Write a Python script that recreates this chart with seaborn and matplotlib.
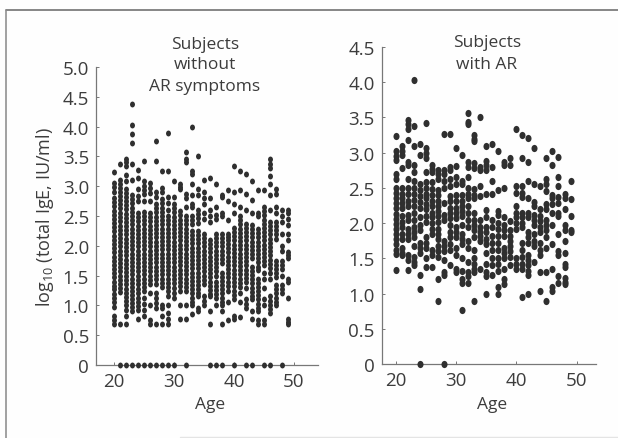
import pandas as pd
import seaborn as sns
import matplotlib
matplotlib.use('Agg')
import matplotlib.pyplot as plt
from matplotlib.lines import Line2D
from matplotlib.path import Path
from matplotlib.transforms import Affine2D

### values, one list per age: log10 total IgE
no_ar_20 = [3.24,3.05,2.98,2.91,2.80,2.73,2.66,2.59,2.52,2.45,2.38,2.31,2.24,2.17,2.10,2.03,1.96,1.89,1.82,1.75,1.68,1.61,1.54,1.47,1.40,1.33,1.27,1.19,1.12,1.05,0.98,0.82,0.75,0.68]
no_ar_21 = [3.38,3.11,3.04,2.97,2.90,2.84,2.77,2.70,2.64,2.55,2.48,2.41,2.34,2.27,2.20,2.13,2.06,1.99,1.92,1.85,1.78,1.71,1.64,1.57,1.50,1.43,1.36,1.30,1.23,0.69,0]
no_ar_22 = [3.46,3.40,3.34,3.18,3.08,2.96,2.89,2.82,2.75,2.68,2.61,2.54,2.47,2.40,2.33,2.26,2.19,2.12,2.05,1.98,1.91,1.84,1.77,1.70,1.63,1.56,1.49,1.42,1.36,1.28,1.21,1.14,1.07,1.00,0.93,0.83,0.69,0]
no_ar_23 = [4.38,4.03,3.87,3.73,3.38,3.10,2.85,2.78,2.71,2.64,2.57,2.50,2.43,2.36,2.29,2.22,2.15,2.08,2.01,1.94,1.87,1.80,1.73,1.66,1.59,1.52,1.45,1.38,1.31,1.25,1.18,1.11,1.04,0.97,0.90,0]
no_ar_24 = [3.28,3.13,2.96,2.83,2.75,2.55,2.48,2.41,2.34,2.27,2.20,2.13,2.06,1.99,1.92,1.85,1.78,1.71,1.64,1.57,1.50,1.43,1.36,1.27,1.20,1.13,1.06,0.99,0.92,0.77,0]
no_ar_25 = [3.42,3.08,3.01,2.94,2.87,2.75,2.57,2.50,2.43,2.36,2.29,2.22,2.15,2.08,2.01,1.94,1.87,1.80,1.73,1.66,1.59,1.52,1.45,1.38,1.31,1.25,1.12,1.03,0.92,0.82,0]
no_ar_26 = [3.05,2.97,2.88,2.75,2.55,2.48,2.41,2.34,2.27,2.20,2.13,2.06,1.99,1.92,1.85,1.78,1.71,1.64,1.57,1.50,1.43,1.36,1.20,1.00,0.76,0.69,0]
no_ar_27 = [3.76,3.42,2.90,2.82,2.70,2.63,2.56,2.49,2.42,2.35,2.28,2.21,2.14,2.07,2.00,1.93,1.86,1.79,1.72,1.65,1.58,1.51,1.44,1.36,1.20,1.12,1.04,0.96,0.69,0]
no_ar_28 = [3.26,2.97,2.90,2.78,2.71,2.64,2.57,2.50,2.43,2.36,2.29,2.22,2.15,2.08,2.01,1.94,1.87,1.80,1.73,1.66,1.59,1.52,1.45,1.38,1.31,1.00,0.95,0.83,0.69,0]
no_ar_29 = [3.90,3.26,2.82,2.72,2.60,2.50,2.43,2.36,2.29,2.22,2.15,2.08,2.01,1.94,1.87,1.80,1.73,1.66,1.59,1.52,1.45,1.38,1.31,1.25,1.15,1.00,0.88,0.78,0.69,0]
no_ar_30 = [3.08,2.82,2.70,2.63,2.56,2.49,2.42,2.35,2.28,2.21,2.14,2.07,2.00,1.93,1.86,1.79,1.72,1.65,1.58,1.51,1.44,1.37,1.30,1.20,1.13,0]
no_ar_31 = [3.03,2.99,2.95,2.58,2.51,2.44,2.37,2.30,2.23,2.16,2.09,2.02,1.95,1.88,1.81,1.74,1.67,1.60,1.53,1.46,1.39,1.32,1.25,1.00,0.77]
no_ar_32 = [3.57,3.45,3.40,2.87,2.80,2.65,2.50,2.43,2.36,2.29,2.22,2.15,2.08,2.01,1.94,1.87,1.80,1.73,1.66,1.59,1.52,1.45,1.38,1.31,1.24,1.00,0.78,0]
no_ar_33 = [4.00,3.25,3.20,3.03,2.85,2.70,2.65,2.50,2.43,2.36,2.25,2.18,2.11,2.04,1.97,1.90,1.83,1.76,1.69,1.62,1.55,1.48,1.41,1.34,1.27,1.20,1.13,1.06,1.00,0.85]
no_ar_34 = [3.50,2.95,2.85,2.60,2.53,2.46,2.39,2.25,2.18,2.11,2.04,1.97,1.90,1.83,1.76,1.69,1.62,1.55,1.48,1.41,1.34,1.27,1.20,1.15,0.95,0.90]
no_ar_35 = [3.10,2.90,2.80,2.70,2.55,2.45,2.20,2.13,2.06,1.99,1.92,1.85,1.78,1.71,1.64,1.57,1.50,1.43,1.36,1.15,1.08,1.00]
no_ar_36 = [3.13,2.80,2.60,2.50,2.40,2.10,2.03,1.96,1.89,1.82,1.75,1.68,1.61,1.54,1.47,1.40,1.33,1.26,1.19,1.15,0.90,0.69,0]
no_ar_37 = [3.03,2.65,2.52,2.45,2.20,2.13,2.06,1.99,1.92,1.85,1.78,1.71,1.64,1.57,1.50,1.40,1.33,1.26,1.19,1.12,1.00,0]
no_ar_38 = [2.85,2.82,2.55,2.50,2.20,2.13,2.06,1.99,1.92,1.85,1.78,1.71,1.55,1.48,1.41,1.34,1.27,1.20,1.13,1.06,1.00,0.90,0.69,0]
no_ar_39 = [2.93,2.75,2.43,2.20,2.15,2.10,2.03,1.96,1.89,1.82,1.75,1.68,1.61,1.54,1.47,1.40,1.33,1.25,1.05,0.76]
no_ar_40 = [3.34,2.90,2.70,2.55,2.30,2.23,2.16,2.09,2.02,1.95,1.88,1.81,1.74,1.67,1.60,1.53,1.46,1.39,1.32,1.25,1.18,1.10,0.82,0.78,0]
no_ar_41 = [3.25,2.93,2.65,2.50,2.43,2.36,2.29,2.22,2.15,2.08,2.01,1.94,1.87,1.80,1.73,1.66,1.59,1.52,1.45,1.38,1.31,1.20,1.05,0.80]
no_ar_42 = [3.21,2.87,2.60,2.37,2.30,2.23,2.16,2.09,2.02,1.95,1.88,1.81,1.74,1.67,1.60,1.53,1.46,1.39,1.30,1.10,1.03,0.96,0]
no_ar_43 = [3.08,2.77,2.55,2.35,2.28,2.21,2.14,2.07,2.00,1.93,1.86,1.79,1.65,1.58,1.51,1.44,1.37,1.30,1.23,1.15,1.10,0.90,0.77,0]
no_ar_44 = [2.93,2.55,2.50,2.28,2.21,2.14,2.07,2.00,1.93,1.86,1.79,1.72,1.65,1.60,1.45,1.38,1.31,1.24,1.17,1.10,1.03,0.96,0.90,0.75,0.69]
no_ar_45 = [2.93,2.65,2.58,2.51,2.44,2.37,2.30,2.23,2.16,2.09,2.02,1.95,1.88,1.81,1.74,1.67,1.55,1.45,1.30,1.10,1.00,0.75,0.69,0]
no_ar_46 = [3.45,3.37,3.30,3.17,3.03,2.85,2.60,2.40,2.33,2.26,2.19,2.12,2.05,1.98,1.91,1.84,1.77,1.70,1.63,1.55,1.45,1.15,1.08,1.01,0.94,0.87,0]
no_ar_47 = [2.95,2.87,2.65,2.55,2.40,2.33,2.26,2.19,2.12,1.75,1.68,1.61,1.54,1.47,1.34,1.27,1.20,1.13,1.06,1.00]
no_ar_48 = [2.60,2.50,2.40,2.20,2.00,1.92,1.75,1.68,1.61,1.50,1.35,1.28,1.21,0]
no_ar_49 = [2.60,2.55,2.45,2.35,2.20,2.10,1.90,1.85,1.80,1.45,1.40,1.13,0.78,0.72,0.68]

with_ar_20 = [3.24,3.03,2.95,2.90,2.70,2.63,2.50,2.43,2.36,2.29,2.22,2.13,2.06,1.99,1.92,1.85,1.78,1.70,1.62,1.56,1.33]
with_ar_21 = [3.10,3.03,2.97,2.78,2.50,2.42,2.35,2.28,2.21,2.10,2.02,1.95,1.85,1.78,1.65,1.58,1.55]
with_ar_22 = [3.46,3.40,3.34,3.18,2.87,2.83,2.62,2.50,2.42,2.32,2.25,2.12,2.05,1.92,1.85,1.78,1.55,1.48,1.33]
with_ar_23 = [4.03,3.38,3.10,2.82,2.72,2.60,2.50,2.42,2.33,2.25,2.15,2.05,1.95,1.88,1.80,1.68,1.52,1.45,1.40]
with_ar_24 = [3.13,2.96,2.55,2.47,2.38,2.30,2.22,2.08,1.98,1.90,1.72,1.65,1.58,1.27,1.07,0]
with_ar_25 = [3.42,3.07,3.00,2.93,2.73,2.58,2.50,2.42,2.35,2.27,2.20,2.10,2.02,1.80,1.72,1.65,1.50,1.38]
with_ar_26 = [2.82,2.77,2.72,2.58,2.48,2.40,2.32,2.25,2.15,2.08,2.00,1.92,1.85,1.62,1.55,1.38]
with_ar_27 = [2.75,2.70,2.62,2.47,2.40,2.32,2.25,2.17,2.10,2.02,1.92,1.85,1.78,1.68,1.60,1.52,1.20,0.89]
with_ar_28 = [3.26,2.75,2.70,2.60,2.50,2.28,2.12,2.05,1.75,1.68,1.60,1.47,1.30,1.27,0]
with_ar_29 = [3.26,2.80,2.75,2.62,2.52,2.38,2.32,2.22,2.15,2.07,1.98,1.88,1.80,1.70,1.62,1.40]
with_ar_30 = [3.07,2.81,2.65,2.55,2.40,2.32,2.22,2.15,2.07,1.95,1.87,1.80,1.65,1.55,1.35,1.30]
with_ar_31 = [2.96,2.60,2.55,2.40,2.32,2.25,2.17,2.10,1.98,1.85,1.78,1.70,1.50,1.32,1.20,1.15,0.77]
with_ar_32 = [3.56,3.43,3.40,2.87,2.80,2.65,2.50,2.42,2.35,2.25,2.15,2.05,1.95,1.75,1.65,1.45,1.30,1.25,1.15]
with_ar_33 = [3.25,3.20,3.17,2.85,2.78,2.48,2.40,2.35,2.15,2.05,1.97,1.90,1.80,1.62,1.50,1.42,1.35,1.30,0.89]
with_ar_34 = [3.50,2.80,2.75,2.52,2.38,2.05,1.95,1.88,1.82,1.75,1.35]
with_ar_35 = [3.10,2.88,2.82,2.75,2.42,2.18,2.08,1.95,1.88,1.78,1.70,1.58,1.42,1.30,1.25,0.99]
with_ar_36 = [3.13,2.80,2.60,2.42,2.05,1.95,1.82,1.72,1.62,1.50,1.40,1.27]
with_ar_37 = [3.03,2.47,2.17,2.12,2.00,1.92,1.82,1.72,1.62,1.50,1.42,1.32,1.10,0.99]
with_ar_38 = [2.87,2.82,2.50,2.08,1.98,1.90,1.82,1.65,1.58,1.50,1.35,1.20,1.13]
with_ar_39 = [2.93,2.82,2.03,1.90,1.82,1.75,1.68,1.60,1.52,1.40]
with_ar_40 = [3.34,2.52,2.43,2.25,2.15,2.08,2.00,1.92,1.50,1.42,1.35]
with_ar_41 = [3.25,2.92,2.52,2.43,2.37,2.15,2.08,2.00,1.95,1.72,1.62,1.52,1.42,1.35,0.95]
with_ar_42 = [3.21,2.87,2.60,2.35,2.15,2.08,1.88,1.80,1.72,1.55,1.48,1.40,1.32,1.27,1.00]
with_ar_43 = [3.07,2.55,2.30,2.25,2.12,2.05,1.97,1.85,1.75,1.68,1.45]
with_ar_44 = [2.53,2.20,2.10,2.03,1.95,1.88,1.72,1.62,1.55,1.30,1.03]
with_ar_45 = [2.92,2.63,2.55,2.45,2.27,2.20,2.05,1.97,1.90,1.80,1.65,1.30,0.90]
with_ar_46 = [3.03,2.83,2.40,2.35,2.27,2.15,1.97,1.70,1.35,1.10,1.03]
with_ar_47 = [2.94,2.65,2.53,2.37,2.28,2.15,2.10,1.85,1.60,1.55,1.25,1.15]
with_ar_48 = [2.42,2.35,2.20,1.97,1.90,1.75,1.57,1.42,1.37,1.22,1.17,1.13]
with_ar_49 = [2.60,2.34,2.10,1.90,1.87]

no_ar = {20:no_ar_20,21:no_ar_21,22:no_ar_22,23:no_ar_23,24:no_ar_24,25:no_ar_25,26:no_ar_26,27:no_ar_27,28:no_ar_28,29:no_ar_29,
         30:no_ar_30,31:no_ar_31,32:no_ar_32,33:no_ar_33,34:no_ar_34,35:no_ar_35,36:no_ar_36,37:no_ar_37,38:no_ar_38,39:no_ar_39,
         40:no_ar_40,41:no_ar_41,42:no_ar_42,43:no_ar_43,44:no_ar_44,45:no_ar_45,46:no_ar_46,47:no_ar_47,48:no_ar_48,49:no_ar_49}
with_ar = {20:with_ar_20,21:with_ar_21,22:with_ar_22,23:with_ar_23,24:with_ar_24,25:with_ar_25,26:with_ar_26,27:with_ar_27,28:with_ar_28,29:with_ar_29,
           30:with_ar_30,31:with_ar_31,32:with_ar_32,33:with_ar_33,34:with_ar_34,35:with_ar_35,36:with_ar_36,37:with_ar_37,38:with_ar_38,39:with_ar_39,
           40:with_ar_40,41:with_ar_41,42:with_ar_42,43:with_ar_43,44:with_ar_44,45:with_ar_45,46:with_ar_46,47:with_ar_47,48:with_ar_48,49:with_ar_49}

x_ticks = [20, 30, 40, 50]
left_y_ticks = [0, 0.5, 1.0, 1.5, 2.0, 2.5, 3.0, 3.5, 4.0, 4.5, 5.0]
left_y_labels = ['0', '0.5', '1.0', '1.5', '2.0', '2.5', '3.0', '3.5', '4.0', '4.5', '5.0']
right_y_ticks = left_y_ticks[:-1]
right_y_labels = left_y_labels[:-1]


def long_frame(cols):
    rows = [(age, v) for age, vals in cols.items() for v in vals]
    return pd.DataFrame(rows, columns=['age', 'ige'])


W, H = 618, 439
TEXT = '#3c3c3c'
sns.set_style('white')
plt.rcParams['font.family'] = ['Open Sans', 'DejaVu Sans']
plt.rcParams['mathtext.default'] = 'regular'

fig = plt.figure(figsize=(W / 100, H / 100), dpi=100, facecolor='#fefefe')


def make_axes(x0, x1, y0, y1):
    return fig.add_axes([x0 / W, 1 - y1 / H, (x1 - x0) / W, (y1 - y0) / H], facecolor='none')


ax1 = make_axes(96, 318, 68, 366)
ax2 = make_axes(381.7, 595.7, 48, 365)

# dots in the scan are a bit taller than wide
tall_dot = Path.unit_circle().transformed(Affine2D().scale(0.84, 1.0))

sns.scatterplot(data=long_frame(no_ar), x='age', y='ige', ax=ax1, color='#2f2f2f', marker=tall_dot, s=18, linewidth=0, clip_on=False, zorder=3)
sns.scatterplot(data=long_frame(with_ar), x='age', y='ige', ax=ax2, color='#2f2f2f', marker=tall_dot, s=27, linewidth=0, clip_on=False, zorder=3)

ax1.set_xlim(17, 54)
ax1.set_ylim(0, 5)
ax1.set_yticks(left_y_ticks)
ax1.set_yticklabels(left_y_labels)
ax2.set_xlim(17.68, 53.17)
ax2.set_ylim(0, 4.5)
ax2.set_yticks(right_y_ticks)
ax2.set_yticklabels(right_y_labels)

for ax in (ax1, ax2):
    ax.set_xticks(x_ticks)
    ax.set_xlabel('')
    ax.set_ylabel('')
    sns.despine(ax=ax)
    ax.spines['left'].set_color('#777777')
    ax.spines['bottom'].set_color('#777777')
    ax.spines['left'].set_linewidth(0.9)
    ax.spines['bottom'].set_linewidth(0.9)
    ax.tick_params(axis='both', direction='in', length=2.5, width=0.7, color='#777777', labelcolor=TEXT, labelsize=13.5, pad=5, left=True, bottom=True)


def px_text(x, y, s, **kw):
    fig.text(x / W, 1 - y / H, s, ha='center', va='center', color=TEXT, **kw)


px_text(205, 45, 'Subjects', fontsize=12.5)
px_text(205, 65, 'without', fontsize=12.5)
px_text(205, 87, 'AR symptoms', fontsize=12.5)
px_text(487, 43, 'Subjects', fontsize=12.5)
px_text(487, 65, 'with AR', fontsize=12.5)
px_text(210, 405, 'Age', fontsize=12.5)
px_text(492, 405, 'Age', fontsize=12.5)
px_text(45, 217, 'log$_{10}$ (total IgE, IU/ml)', fontsize=13, rotation=90)

# scanned page frame
fig.add_artist(Line2D([5.5 / W, 1], [1 - 10.5 / H, 1 - 10.5 / H], color='#666666', lw=1.1))
fig.add_artist(Line2D([5.5 / W, 5.5 / W], [0, 1 - 10.5 / H], color='#888888', lw=1.1))
fig.add_artist(Line2D([180 / W, 1], [1 - 438 / H, 1 - 438 / H], color='#e4e4e4', lw=1))

fig.savefig('out.png', dpi=100, facecolor=fig.get_facecolor())
